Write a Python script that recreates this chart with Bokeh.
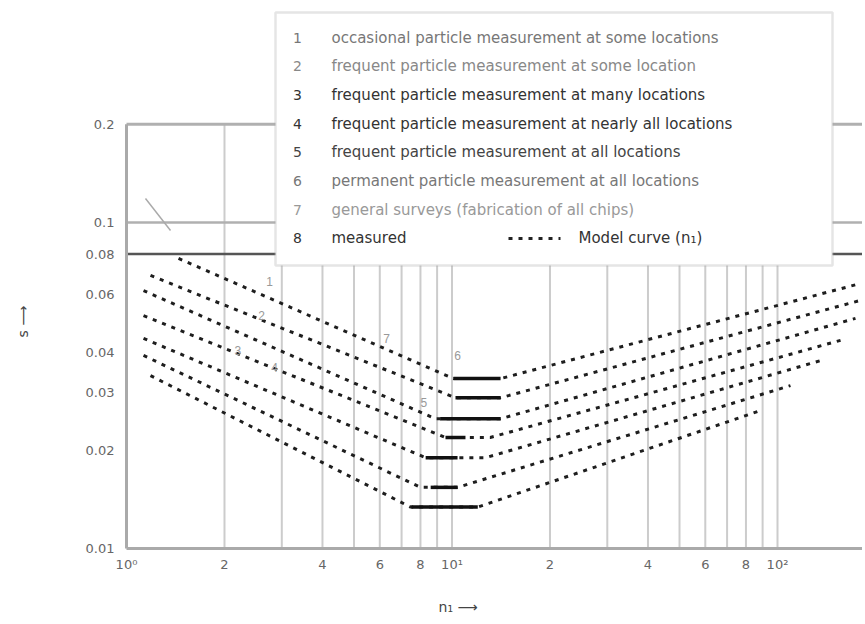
import math
from bokeh.plotting import figure
from bokeh.models import Label, BoxAnnotation, FixedTicker
from bokeh.embed import file_html
from bokeh.resources import INLINE

# ---------------- data ----------------
x_ticks = [1, 2, 4, 6, 8, 10, 20, 40, 60, 80, 100]
x_tick_labels = ["10⁰", "2", "4", "6", "8", "10¹", "2", "4", "6", "8", "10²"]
y_ticks = [0.01, 0.02, 0.03, 0.04, 0.06, 0.08, 0.1, 0.2]
y_tick_labels = ["0.01", "0.02", "0.03", "0.04", "0.06", "0.08", "0.1", "0.2"]
grid_x = [2, 3, 4, 5, 6, 7, 8, 9, 10, 20, 30, 40, 50, 60, 70, 80, 90, 100]
ref_y = [0.2, 0.1, 0.08]

# model curves 1..7 : left start, bottom start, bottom end, right end
curve1_x = [1.445, 10.1, 14.1, 179.9]
curve1_y = [0.0776, 0.0332, 0.0332, 0.065]
curve2_x = [1.185, 10.25, 14.1, 179.9]
curve2_y = [0.0688, 0.029, 0.029, 0.0577]
curve3_x = [1.128, 8.9, 14.1, 173.6]
curve3_y = [0.0618, 0.025, 0.025, 0.0508]
curve4_x = [1.128, 9.55, 13.1, 156.2]
curve4_y = [0.0518, 0.0219, 0.0219, 0.0435]
curve5_x = [1.128, 8.29, 12.7, 135.6]
curve5_y = [0.0441, 0.019, 0.019, 0.0377]
curve6_x = [1.128, 8.0, 10.4, 109.6]
curve6_y = [0.0391, 0.0154, 0.0154, 0.0316]
curve7_x = [1.185, 7.46, 12.0, 88.7]
curve7_y = [0.0339, 0.0134, 0.0134, 0.0265]

# measured ranges (solid bars)
meas_x0 = [10.1, 10.25, 9.2, 9.55, 8.3, 8.6, 7.5]
meas_x1 = [14.1, 14.1, 14.1, 11.0, 10.4, 10.4, 12.0]
meas_y = [0.0332, 0.029, 0.025, 0.0219, 0.019, 0.0154, 0.0134]

# small curve numbers inside the chart
num_x = [2.75, 2.6, 2.2, 2.85, 8.2, 10.4, 6.3]
num_y = [0.0660, 0.0520, 0.0405, 0.0360, 0.0280, 0.0390, 0.0440]
num_text = ["1", "2", "3", "4", "5", "6", "7"]

legend_numbers = ["1", "2", "3", "4", "5", "6", "7", "8"]
legend_texts = [
    "occasional particle measurement at some locations",
    "frequent particle measurement at some location",
    "frequent particle measurement at many locations",
    "frequent particle measurement at nearly all locations",
    "frequent particle measurement at all locations",
    "permanent particle measurement at all locations",
    "general surveys (fabrication of all chips)",
    "measured",
]
legend_colors = ["#777", "#888", "#333", "#333", "#444", "#777", "#999", "#333"]
model_label = "Model curve (n₁)"
x_title = "n₁ ⟶"
y_title = "s ⟶"

# ---------------- layout helpers (page pixel -> data) ----------------
X1_PX, XDEC = 126.0, 325.5   # page x of 10^0, px per decade
Y1_PX, YDEC = 548.0, 326.0   # page y of 0.01, px per decade


def sx(px):
    return 10 ** ((px - X1_PX) / XDEC)


def sy(py):
    return 0.01 * 10 ** ((Y1_PX - py) / YDEC)


F_LEFT, F_RIGHT, F_TOP, F_BOTTOM = 120, 862, 10, 552

NBSP = "\u00a0"
p = figure(
    x_axis_type="log", y_axis_type="log",
    x_range=(sx(F_LEFT), sx(F_RIGHT)), y_range=(sy(F_BOTTOM), sy(F_TOP)),
    frame_width=F_RIGHT - F_LEFT, frame_height=F_BOTTOM - F_TOP,
    min_border_left=F_LEFT, min_border_right=0,
    min_border_top=F_TOP, min_border_bottom=60,
    output_backend="svg", toolbar_location=None,
)
p.outline_line_color = None
p.grid.visible = False
p.background_fill_color = "white"

p.xaxis.ticker = FixedTicker(ticks=x_ticks, minor_ticks=[])
p.xaxis.major_label_overrides = {t: l for t, l in zip(x_ticks, x_tick_labels)}
p.yaxis.ticker = FixedTicker(ticks=y_ticks, minor_ticks=[])
p.yaxis.major_label_overrides = {t: l for t, l in zip(y_ticks, y_tick_labels)}
for ax in (p.xaxis, p.yaxis):
    ax.axis_line_color = None
    ax.major_tick_line_color = None
    ax.minor_tick_line_color = None
    ax.major_tick_out = 0
    ax.major_tick_in = 0
    ax.major_label_text_font = "DejaVu Sans"
    ax.major_label_text_font_size = "13px"
    ax.major_label_text_color = "#666666"
    ax.axis_label_text_font = "DejaVu Sans"
    ax.axis_label_text_font_size = "14px"
    ax.axis_label_text_font_style = "normal"
    ax.axis_label_text_color = "#444444"
p.yaxis.major_label_standoff = 6
p.xaxis.major_label_standoff = 4
# titles; trailing no-break spaces shift the visible text like in the reference
p.yaxis.axis_label = y_title + NBSP * 18
p.yaxis.axis_label_standoff = 52
p.xaxis.axis_label = x_title + NBSP * 15
p.xaxis.axis_label_standoff = 24

y_lo, y_hi = y_ticks[0], y_ticks[-1]
x_lo, x_hi = x_ticks[0], sx(F_RIGHT)

# grid
p.segment(x0=grid_x, y0=[y_lo] * len(grid_x), x1=grid_x, y1=[y_hi] * len(grid_x),
          line_color="#cccccc", line_width=2)
p.segment(x0=[x_lo] * 3, y0=ref_y, x1=[x_hi] * 3, y1=ref_y,
          line_color=["#b0b0b0", "#b0b0b0", "#555555"], line_width=[3, 2.5, 2.5])
# frame lines (left / bottom)
p.segment(x0=[x_lo, x_lo], y0=[y_lo, y_lo], x1=[x_lo, x_hi], y1=[y_hi, y_lo],
          line_color="#aaaaaa", line_width=3)

# leader line for curve numbering (top left)
p.line([sx(145), sx(170)], [sy(198), sy(230)], line_color="#aaaaaa", line_width=1.5)

curves = [(curve1_x, curve1_y), (curve2_x, curve2_y), (curve3_x, curve3_y),
          (curve4_x, curve4_y), (curve5_x, curve5_y), (curve6_x, curve6_y),
          (curve7_x, curve7_y)]
for cx, cy in curves:
    p.line(cx, cy, line_color="#1e1e1e", line_width=3, line_dash="4 6")

p.segment(x0=meas_x0, y0=meas_y, x1=meas_x1, y1=meas_y, line_color="#111111", line_width=3.5)

p.text(x=num_x, y=num_y, text=num_text, text_color="#999999", text_font_size="12px",
       text_align="center", text_baseline="middle")

# legend box
box = BoxAnnotation(left=sx(275), right=sx(832), bottom=sy(265), top=sy(12),
                    fill_color="white", fill_alpha=1.0,
                    line_color="#a8a8a8", line_width=2.5)
p.add_layout(box)
for i, (num, txt, col) in enumerate(zip(legend_numbers, legend_texts, legend_colors)):
    py = 37 + 28.7 * i
    p.add_layout(Label(x=sx(297), y=sy(py), text=num, text_color=col,
                       text_font="DejaVu Sans", text_font_size="14px",
                       text_align="center", text_baseline="middle"))
    p.add_layout(Label(x=sx(331), y=sy(py), text=txt, text_color=col,
                       text_font="DejaVu Sans", text_font_size="15px",
                       text_align="left", text_baseline="middle"))
py8 = 37 + 28.7 * 7
key = p.line([sx(508), sx(560)], [sy(py8), sy(py8)], line_color="#222222",
             line_width=3, line_dash="4 6")
key.level = "overlay"
p.add_layout(Label(x=sx(578), y=sy(py8), text=model_label, text_color="#333",
                   text_font="DejaVu Sans", text_font_size="15px",
                   text_align="left", text_baseline="middle"))

open("out.html", "w").write(file_html(p, INLINE))
